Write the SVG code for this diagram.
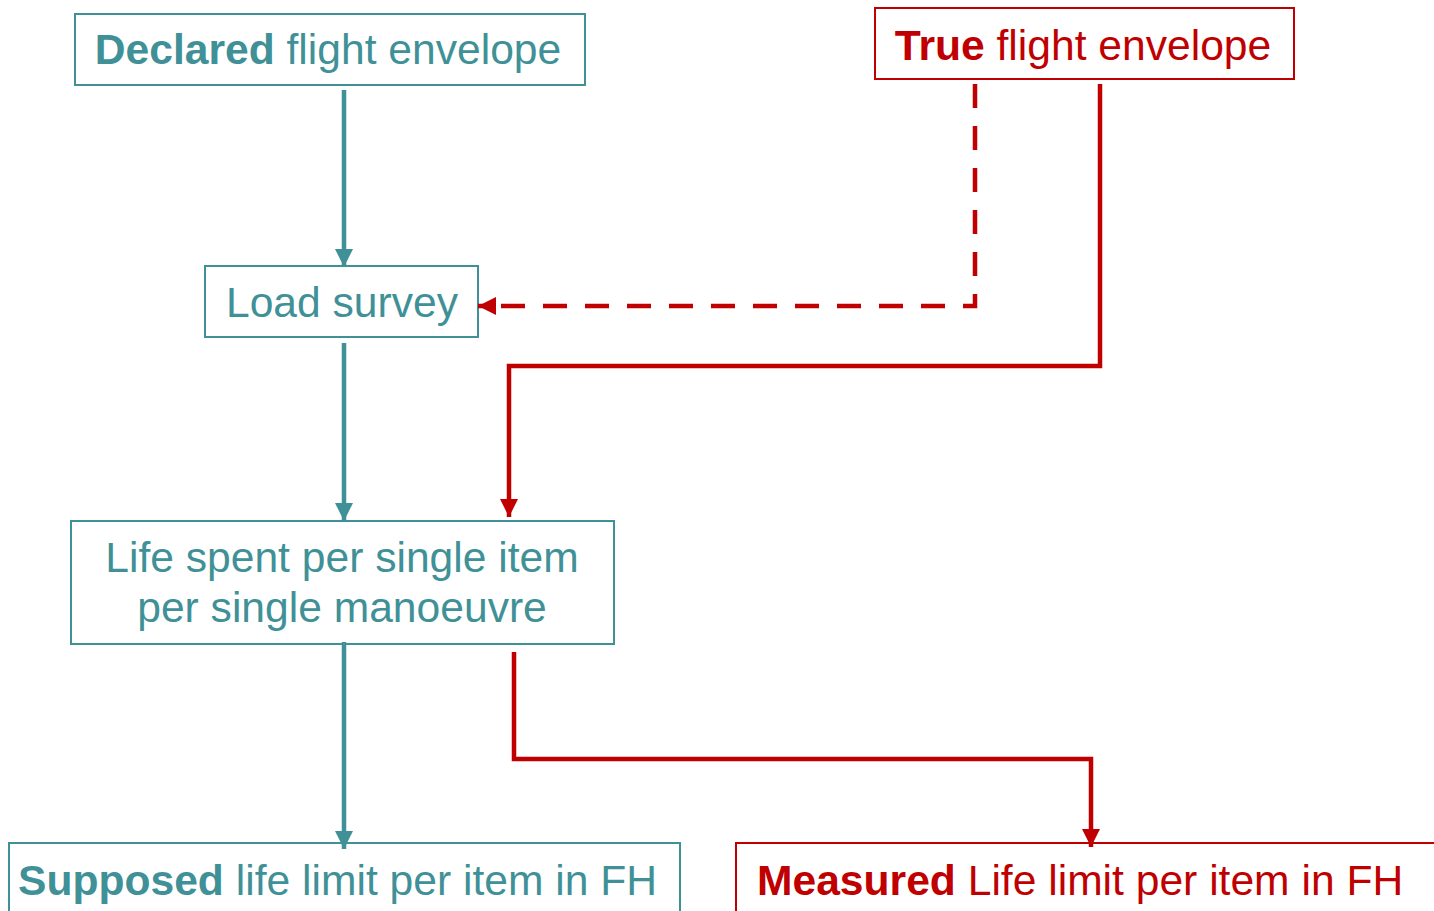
<svg xmlns="http://www.w3.org/2000/svg" width="1434" height="911" viewBox="0 0 1434 911">
<style>
.t{font-family:"Liberation Sans",Arial,sans-serif;font-size:42.6px}
.b{font-weight:bold}
.teal{fill:#3f9197}
.red{fill:#c00000}
.bt{fill:#fff;stroke:#3f9197;stroke-width:2}
.br{fill:#fff;stroke:#c00000;stroke-width:2}
.ct{fill:none;stroke:#3f9197;stroke-width:4.5}
.cr{fill:none;stroke:#c00000;stroke-width:4.5}
.dash{stroke-dasharray:24 18}
</style>
<defs>
<marker id="at" markerUnits="userSpaceOnUse" markerWidth="18" markerHeight="18" viewBox="0 0 16 16" refX="16" refY="8" orient="auto"><path d="M0,0 L16,8 L0,16 Z" fill="#3f9197"/></marker>
<marker id="ar" markerUnits="userSpaceOnUse" markerWidth="18" markerHeight="18" viewBox="0 0 16 16" refX="16" refY="8" orient="auto"><path d="M0,0 L16,8 L0,16 Z" fill="#c00000"/></marker>
</defs>
<g id="n-declared">
<rect class="bt" x="75" y="14" width="510" height="71"/>
<text class="t teal" x="328" y="64" text-anchor="middle"><tspan class="b">Declared</tspan> flight envelope</text>
</g>
<g id="n-true">
<rect class="br" x="875" y="8" width="419" height="71"/>
<text class="t red" x="1083" y="60" text-anchor="middle"><tspan class="b">True</tspan> flight envelope</text>
</g>
<g id="n-load">
<rect class="bt" x="205" y="266" width="273" height="71"/>
<text class="t teal" x="342" y="317" text-anchor="middle">Load survey</text>
</g>
<g id="n-life">
<rect class="bt" x="71" y="521" width="543" height="123"/>
<text class="t teal" x="342" y="572" text-anchor="middle">Life spent per single item</text>
<text class="t teal" x="342" y="622" text-anchor="middle">per single manoeuvre</text>
</g>
<g id="n-supposed">
<rect class="bt" x="9" y="843" width="671" height="80"/>
<text class="t teal" x="18" y="895"><tspan class="b">Supposed</tspan> life limit per item in FH</text>
</g>
<g id="n-measured">
<rect class="br" x="736" y="843" width="710" height="80"/>
<text class="t red" x="757" y="895"><tspan class="b">Measured</tspan> Life limit per item in FH</text>
</g>
<g id="connectors">
<path class="ct" d="M344,90 V267" marker-end="url(#at)"/>
<path class="ct" d="M344,343 V521" marker-end="url(#at)"/>
<path class="ct" d="M344,642 V849" marker-end="url(#at)"/>
<path class="cr dash" d="M975,84 V306 H478" marker-end="url(#ar)"/>
<path class="cr" d="M1100,84 V366 H509 V517" marker-end="url(#ar)"/>
<path class="cr" d="M514,652 V759 H1091 V847" marker-end="url(#ar)"/>
</g>
</svg>
